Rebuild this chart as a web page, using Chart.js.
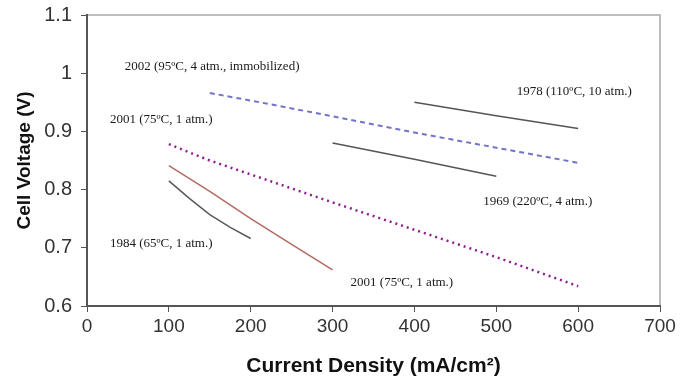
<!DOCTYPE html>
<html lang="en">
<head>
    <meta charset="UTF-8">
    <title>Cell Voltage vs Current Density</title>
    <style>
        body {
            margin: 0;
            background-color: #fff;
        }

        #chart-container {
            width: 692px;
            height: 384px;
        }
    </style>
    <script src="https://cdn.jsdelivr.net/npm/chart.js"></script>
</head>
<body>
    <div id="chart-container">
        <canvas id="voltage-chart"></canvas>
    </div>
    <script>
        // values (current density in mA/cm2, voltage in V)
        const x2002 = [150, 200, 300, 400, 500, 600];
        const v2002 = [0.966, 0.953, 0.926, 0.898, 0.872, 0.846];

        const x1978 = [400, 500, 600];
        const v1978 = [0.950, 0.927, 0.905];

        const x1969 = [300, 400, 500];
        const v1969 = [0.880, 0.852, 0.823];

        const x2001a = [100, 150, 200, 300, 400, 500, 600];
        const v2001a = [0.878, 0.850, 0.826, 0.778, 0.731, 0.684, 0.634];

        const x1984 = [100, 125, 150, 175, 200];
        const v1984 = [0.815, 0.785, 0.757, 0.735, 0.716];

        const x2001b = [100, 150, 200, 250, 300];
        const v2001b = [0.841, 0.797, 0.750, 0.706, 0.662];

        // curve labels and where they sit, in data units
        const labelText = [
            '2002 (95ºC, 4 atm., immobilized)',
            '2001 (75ºC, 1 atm.)',
            '1978 (110ºC, 10 atm.)',
            '1969 (220ºC, 4 atm.)',
            '1984 (65ºC, 1 atm.)',
            '2001 (75ºC, 1 atm.)'
        ];
        const labelX = [46, 28, 525, 484, 28, 322];
        const labelY = [1.011, 0.920, 0.969, 0.780, 0.708, 0.640];

        function pts(xs, ys) {
            return xs.map((x, i) => ({ x: x, y: ys[i] }));
        }

        // light frame on top/right, drawn before the axes
        const framePlugin = {
            id: 'frame',
            beforeDraw(chart) {
                const a = chart.chartArea;
                const ctx = chart.ctx;
                ctx.save();
                ctx.strokeStyle = '#a8a8a8';
                ctx.lineWidth = 1.5;
                ctx.strokeRect(a.left, a.top, a.right - a.left, a.bottom - a.top);
                ctx.restore();
            }
        };

        const labelPlugin = {
            id: 'curveLabels',
            afterDatasetsDraw(chart) {
                const ctx = chart.ctx;
                const xs = chart.scales.x;
                const ys = chart.scales.y;
                ctx.save();
                ctx.font = '13px "Liberation Serif", "Times New Roman", serif';
                ctx.fillStyle = '#1a1a1a';
                ctx.textAlign = 'left';
                ctx.textBaseline = 'middle';
                labelText.forEach((t, i) => {
                    ctx.fillText(t, xs.getPixelForValue(labelX[i]), ys.getPixelForValue(labelY[i]));
                });
                ctx.restore();
            }
        };

        const ctx = document.getElementById('voltage-chart').getContext('2d');
        new Chart(ctx, {
            type: 'line',
            data: {
                datasets: [
                    { data: pts(x2002, v2002), borderColor: '#7373c8', borderWidth: 2, borderDash: [5, 4] },
                    { data: pts(x1978, v1978), borderColor: '#555555', borderWidth: 1.5 },
                    { data: pts(x1969, v1969), borderColor: '#555555', borderWidth: 1.5 },
                    { data: pts(x2001a, v2001a), borderColor: '#8e1f8e', borderWidth: 2.5, borderDash: [2, 4] },
                    { data: pts(x1984, v1984), borderColor: '#5a5a5a', borderWidth: 1.5 },
                    { data: pts(x2001b, v2001b), borderColor: '#b46a60', borderWidth: 1.5 }
                ]
            },
            options: {
                responsive: true,
                maintainAspectRatio: false,
                animation: false,
                layout: { padding: { top: 15, right: 32, left: 0, bottom: 0 } },
                elements: { point: { radius: 0 }, line: { tension: 0 } },
                plugins: {
                    legend: { display: false },
                    tooltip: { enabled: false }
                },
                scales: {
                    x: {
                        type: 'linear',
                        min: 0,
                        max: 700,
                        ticks: {
                            stepSize: 100,
                            color: '#333',
                            padding: 3,
                            font: { family: '"Liberation Sans", Arial, sans-serif', size: 19 }
                        },
                        grid: { drawOnChartArea: false, drawTicks: true, tickLength: 6, color: '#555' },
                        border: { display: true, color: '#555', width: 2 },
                        title: {
                            display: true,
                            text: 'Current Density (mA/cm²)',
                            color: '#111',
                            padding: { top: 0, bottom: 5 },
                            font: { family: '"Liberation Sans", Arial, sans-serif', size: 21, weight: 'bold' }
                        },
                        afterFit(scale) {
                            scale.height = 78;
                            scale.paddingLeft = 0;
                            scale.paddingRight = 0;
                        }
                    },
                    y: {
                        min: 0.6,
                        max: 1.1,
                        ticks: {
                            stepSize: 0.1,
                            color: '#333',
                            padding: 9,
                            font: { family: '"Liberation Sans", Arial, sans-serif', size: 20 },
                            callback: v => Math.round(v * 10) / 10
                        },
                        grid: { drawOnChartArea: false, drawTicks: true, tickLength: 6, color: '#555' },
                        border: { display: true, color: '#555', width: 2 },
                        title: {
                            display: true,
                            text: 'Cell Voltage (V)',
                            color: '#111',
                            padding: { top: 13, bottom: 0 },
                            font: { family: '"Liberation Sans", Arial, sans-serif', size: 19, weight: 'bold' }
                        },
                        afterFit(scale) {
                            scale.width = 87;
                            scale.paddingTop = 0;
                            scale.paddingBottom = 0;
                        }
                    }
                }
            },
            plugins: [framePlugin, labelPlugin]
        });
    </script>
</body>
</html>
